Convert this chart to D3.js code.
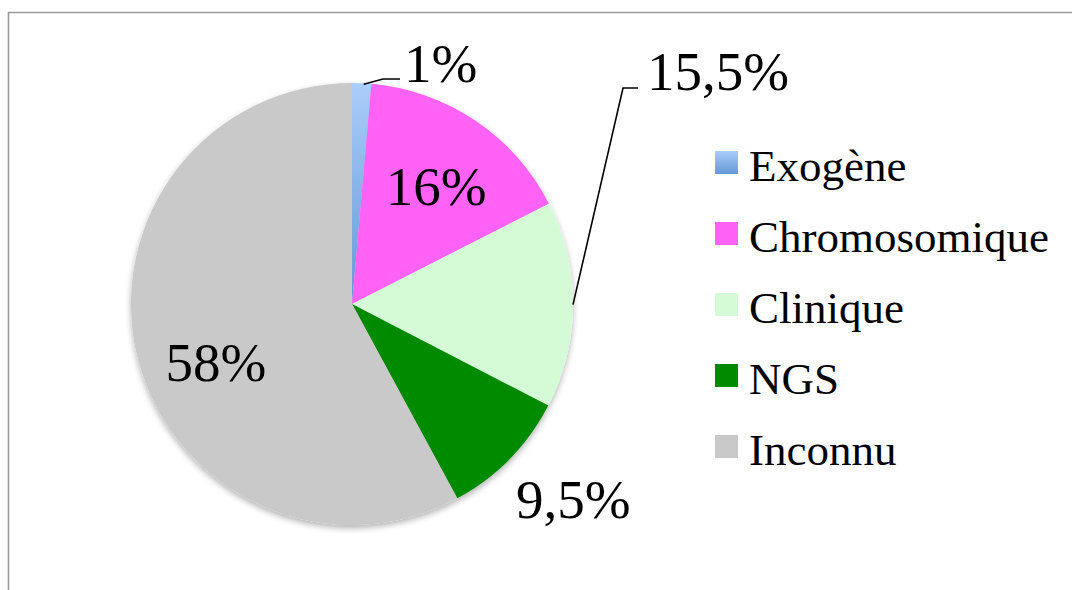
<!DOCTYPE html>
<html>
<head>
<meta charset="utf-8">
<script src="https://cdn.jsdelivr.net/npm/d3@7"></script>
<style>
  html, body { margin: 0; padding: 0; background: #fff; }
  svg { display: block; }
  text { font-family: "Liberation Serif", "Times New Roman", serif; fill: #000; }
</style>
</head>
<body>
<div id="chart"></div>
<script>
(function(){
	var w = 1072, h = 590;

	// données (angles, étiquettes telles qu'affichées)
	var categories = ["Exogène", "Chromosomique", "Clinique", "NGS", "Inconnu"];
	var values = [1.4, 16.1, 15.1, 9.5, 57.9];
	var labels = ["1%", "16%", "15,5%", "9,5%", "58%"];

	var colors = ["url(#gradExo)", "#ff62f5", "#d4fbd6", "#008a00", "#c9c9c9"];

	var cx = 352, cy = 304, r = 221;

	var svg = d3.select("#chart")
		.append("svg")
		.attr("width", w)
		.attr("height", h);

	var defs = svg.append("defs");
	var grad = defs.append("linearGradient")
		.attr("id", "gradExo")
		.attr("x1", 0).attr("y1", 0).attr("x2", 0).attr("y2", 1);
	grad.append("stop").attr("offset", "0%").attr("stop-color", "#abcdfa");
	grad.append("stop").attr("offset", "100%").attr("stop-color", "#6398d6");

	var shadow = defs.append("filter")
		.attr("id", "shadow")
		.attr("x", "-10%").attr("y", "-10%")
		.attr("width", "120%").attr("height", "125%");
	shadow.append("feDropShadow")
		.attr("dx", 0).attr("dy", 3)
		.attr("stdDeviation", 3)
		.attr("flood-color", "#000")
		.attr("flood-opacity", 0.3);

	// cadre (haut et gauche)
	svg.append("path")
		.attr("d", "M8.5," + h + " L8.5,12.5 L" + w + ",12.5")
		.attr("fill", "none")
		.attr("stroke", "#9a9a9a")
		.attr("stroke-width", 1.6);

	var pie = d3.pie().sort(null).value(function(d){ return d; });
	var arcs = pie(values);
	var arc = d3.arc().innerRadius(0).outerRadius(r);

	var g = svg.append("g").attr("transform", "translate(" + cx + "," + cy + ")");

	g.append("g")
		.attr("filter", "url(#shadow)")
		.selectAll("path")
		.data(arcs)
		.enter()
		.append("path")
		.attr("d", arc)
		.attr("fill", function(d, i){ return colors[i]; });

	function angPos(d, rad){
		var a = (d.startAngle + d.endAngle) / 2;
		return [rad * Math.sin(a), -rad * Math.cos(a)];
	}

	// lignes de rappel pour 1% et 15,5%
	var leaders = [
		{i: 0, pts: function(d){ var p = angPos(d, r); return [[p[0] + 2, p[1] + 1], [31, -225], [48, -225]]; }},
		{i: 2, pts: function(d){ var p = angPos(d, r); return [p, [271, -216], [286, -216]]; }}
	];
	g.selectAll("path.leader")
		.data(leaders)
		.enter()
		.append("path")
		.attr("class", "leader")
		.attr("fill", "none")
		.attr("stroke", "#000")
		.attr("stroke-width", 1.6)
		.attr("d", function(l){ return d3.line()(l.pts(arcs[l.i])); });

	var fs = 55;
	var labelPos = [
		function(d){ return [52, -222, "start"]; },
		function(d){ var c = angPos(d, 145); return [c[0] + 3, -99, "middle"]; },
		function(d){ return [295, -214, "start"]; },
		function(d){ var c = angPos(d, 296); return [c[0] + 10, 214, "middle"]; },
		function(d){ return [-136, 77, "middle"]; }
	];

	g.selectAll("text.lbl")
		.data(arcs)
		.enter()
		.append("text")
		.attr("class", "lbl")
		.style("font-size", fs + "px")
		.each(function(d, i){
			var p = labelPos[i](d);
			d3.select(this)
				.attr("x", p[0])
				.attr("y", p[1])
				.attr("text-anchor", p[2]);
		})
		.text(function(d, i){ return labels[i]; });

	// légende
	var legend = svg.append("g").attr("transform", "translate(715,151)");
	var rows = legend.selectAll("g")
		.data(categories)
		.enter()
		.append("g")
		.attr("transform", function(d, i){ return "translate(0," + (i * 71) + ")"; });
	rows.append("rect")
		.attr("width", 23)
		.attr("height", 23)
		.attr("fill", function(d, i){ return colors[i]; });
	rows.append("text")
		.attr("x", 34)
		.attr("y", 30)
		.style("font-size", "45px")
		.text(function(d){ return d; });
})();
</script>
</body>
</html>
